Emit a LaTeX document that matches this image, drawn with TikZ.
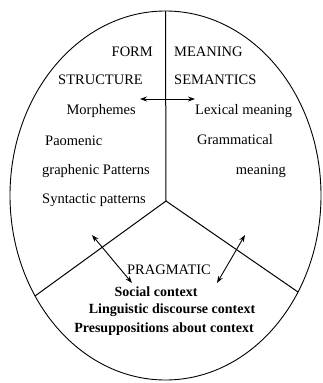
\documentclass[tikz,border=0pt]{standalone}
\usepackage{fontspec}
\setmainfont{Liberation Serif}
\usetikzlibrary{arrows.meta}
\tikzset{
  lbl/.style={inner sep=0pt, font=\fontsize{14.5}{16}\selectfont},
  ctx/.style={inner sep=0pt, font=\fontsize{14}{16}\selectfont\bfseries},
  link/.style={{Stealth[length=7pt,width=5pt]}-{Stealth[length=7pt,width=5pt]}, line width=0.9pt}
}
\begin{document}
\begin{tikzpicture}[x=1pt,y=-1pt]
  \useasboundingbox (0,0) rectangle (323,383);
  \draw[line width=0.9pt] (165.5,195.5) ellipse [x radius=155.5, y radius=184.5];
  % the three fields
  \coordinate (mid) at (166,201);
  \draw[line width=1pt] (165.5,11) -- (mid);
  \draw[line width=1pt] (mid) -- (35,296);
  \draw[line width=1pt] (mid) -- (298,292);
  % form
  \node[lbl, anchor=east] (form) at (153,52) {FORM};
  \node[lbl, anchor=east] (struct) at (143,80) {STRUCTURE};
  \node[lbl, anchor=east] (morph) at (136,111) {Morphemes};
  \node[lbl, anchor=west] (phon) at (45,141) {Paomenic};
  \node[lbl, anchor=west] (graph) at (42,171) {graphenic Patterns};
  \node[lbl, anchor=west] (synt) at (42,200) {Syntactic patterns};
  % meaning
  \node[lbl, anchor=west] (mean) at (174,52) {MEANING};
  \node[lbl, anchor=west] (sem) at (174,80) {SEMANTICS};
  \node[lbl, anchor=west] (lex) at (195,111) {Lexical meaning};
  \node[lbl, anchor=west] (gram) at (197,140) {Grammatical};
  \node[lbl, anchor=east] (gmean) at (286,171) {meaning};
  % pragmatic
  \node[lbl] (prag) at (169,270) {PRAGMATIC};
  \node[ctx] (soc) at (156,292) {Social context};
  \node[ctx] (ling) at (172,310) {Linguistic discourse context};
  \node[ctx] (pres) at (164,329) {Presuppositions about context};
  % arrows
  \coordinate (hl) at (140,99);
  \coordinate (hr) at (195,99);
  \coordinate (dlt) at (92,235);
  \coordinate (dlb) at (132,283);
  \coordinate (drt) at (245,235);
  \coordinate (drb) at (217,283);
  \draw[link] (hl) -- (hr);
  \draw[link] (dlt) -- (dlb);
  \draw[link] (drt) -- (drb);
\end{tikzpicture}
\end{document}
